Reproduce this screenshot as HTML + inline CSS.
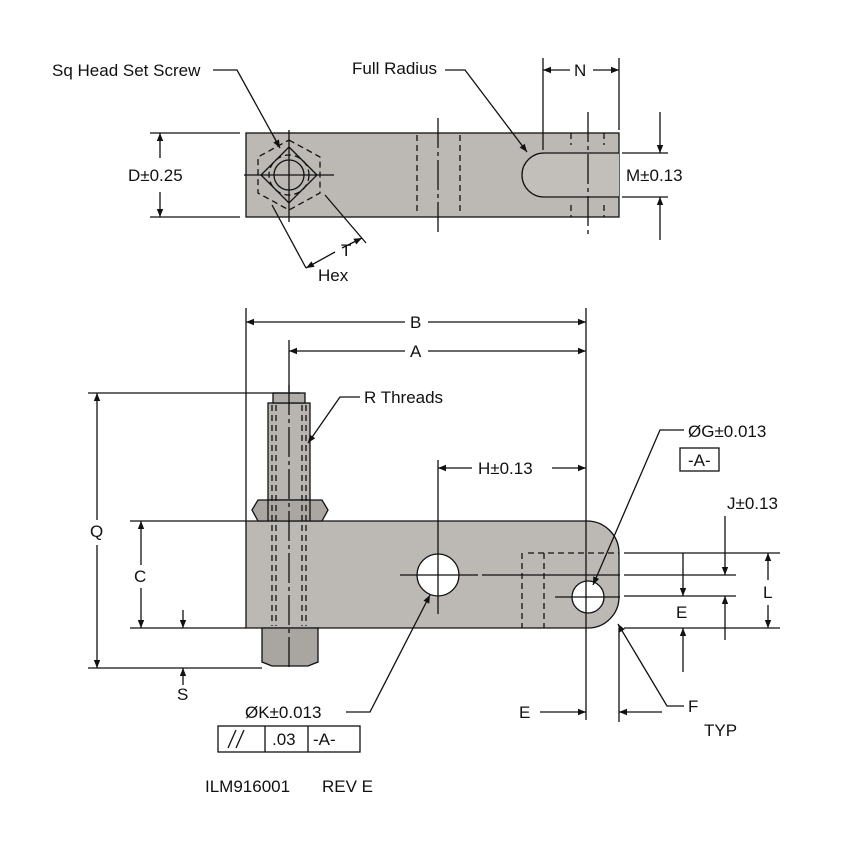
<!DOCTYPE html>
<html><head><meta charset="utf-8"><style>
body{margin:0;background:#fff}
svg{display:block}
text{font-family:"Liberation Sans",sans-serif;font-size:17px;fill:#111}
</style></head><body>
<svg width="844" height="858" viewBox="0 0 844 858" xmlns="http://www.w3.org/2000/svg">
<defs>
<marker id="a" viewBox="0 0 10 10" refX="10" refY="5" markerWidth="15" markerHeight="8" orient="auto-start-reverse" markerUnits="userSpaceOnUse"><path d="M0,1 L10,5 L0,9 z" fill="#111"/></marker>
</defs>
<g stroke="#111" stroke-width="1.3" fill="none">
<!-- TOP VIEW -->
<rect x="246" y="133" width="373" height="84" fill="#bcb9b4"/>
<path d="M619,153 H544 A22,22 0 0 0 544,197 H619" fill="#c2bfba"/>
<g stroke-dasharray="6,4">
<line x1="417" y1="135" x2="417" y2="215"/><line x1="460" y1="135" x2="460" y2="215"/>
<line x1="571" y1="133" x2="571" y2="145"/><line x1="604" y1="133" x2="604" y2="145"/>
<line x1="571" y1="205" x2="571" y2="217"/><line x1="604" y1="205" x2="604" y2="217"/>
<polygon points="289,140 320,157 320,193 289,210 258,193 258,157"/>
<circle cx="289" cy="175" r="20"/>
</g>
<line x1="438" y1="118" x2="438" y2="235" stroke-dasharray="30,4,4,4"/>
<line x1="588" y1="112" x2="588" y2="235" stroke-dasharray="30,4,4,4"/>
<polygon points="289,147 317,175 289,203 261,175"/>
<circle cx="289" cy="175" r="15"/>
<line x1="244" y1="175" x2="334" y2="175"/><line x1="289" y1="130" x2="289" y2="222"/>
<!-- D -->
<line x1="150" y1="133" x2="240" y2="133"/><line x1="150" y1="217" x2="240" y2="217"/>
<line x1="160" y1="158" x2="160" y2="133" marker-end="url(#a)"/>
<line x1="160" y1="192" x2="160" y2="217" marker-end="url(#a)"/>
<!-- M -->
<line x1="622" y1="153" x2="668" y2="153"/><line x1="622" y1="197" x2="668" y2="197"/>
<line x1="660" y1="112" x2="660" y2="153" marker-end="url(#a)"/>
<line x1="660" y1="240" x2="660" y2="197" marker-end="url(#a)"/>
<!-- N -->
<line x1="543" y1="58" x2="543" y2="150"/><line x1="619" y1="58" x2="619" y2="130"/>
<line x1="570" y1="70" x2="543" y2="70" marker-end="url(#a)"/>
<line x1="593" y1="70" x2="619" y2="70" marker-end="url(#a)"/>
<!-- leaders -->
<polyline points="213,70 237,70 280,148" marker-end="url(#a)"/>
<polyline points="445,70 465,70 527,152" marker-end="url(#a)"/>
<!-- T -->
<line x1="272" y1="205" x2="306" y2="268"/><line x1="325" y1="195" x2="366" y2="243"/>
<line x1="335" y1="252" x2="306" y2="268" marker-end="url(#a)"/>
<line x1="342" y1="248" x2="362" y2="238" marker-end="url(#a)"/>

<!-- BOTTOM VIEW -->
<path d="M246,521 H587 A32,32 0 0 1 619,553 V597 A31,31 0 0 1 588,628 H246 Z" fill="#bcb9b4"/>
<rect x="268" y="403" width="42" height="97" fill="#b8b5b0"/>
<rect x="273" y="393" width="32" height="10" fill="#b0ada8"/>
<path d="M252,510 L258,500 H322 L328,510 L322,521 H258 Z" fill="#aaa7a2"/>
<line x1="268" y1="500" x2="268" y2="521"/><line x1="310" y1="500" x2="310" y2="521"/>
<path d="M262,628 H318 V662 L308,666 H272 L262,662 Z" fill="#a9a6a1"/>
<g stroke-dasharray="6,4">
<line x1="272" y1="405" x2="272" y2="626"/><line x1="276" y1="405" x2="276" y2="626"/>
<line x1="302" y1="405" x2="302" y2="626"/><line x1="306" y1="405" x2="306" y2="626"/>
<line x1="522" y1="553" x2="522" y2="628"/><line x1="544" y1="553" x2="544" y2="628"/>
<line x1="528" y1="553" x2="619" y2="553"/>
</g>
<line x1="289" y1="385" x2="289" y2="668" stroke-dasharray="30,4,4,4"/>
<circle cx="438" cy="575" r="21" fill="#fff"/>
<circle cx="588" cy="597" r="16" fill="#fff"/>
<line x1="400" y1="575" x2="478" y2="575"/><line x1="482" y1="575" x2="620" y2="575"/>
<line x1="555" y1="597" x2="620" y2="597"/>
<line x1="438" y1="460" x2="438" y2="614"/>
<line x1="586" y1="308" x2="586" y2="720"/>
<line x1="619" y1="628" x2="619" y2="722"/>
<!-- B A -->
<line x1="246" y1="308" x2="246" y2="521"/>
<line x1="289" y1="340" x2="289" y2="393"/>
<line x1="405" y1="322" x2="246" y2="322" marker-end="url(#a)"/>
<line x1="428" y1="322" x2="586" y2="322" marker-end="url(#a)"/>
<line x1="405" y1="351" x2="289" y2="351" marker-end="url(#a)"/>
<line x1="428" y1="351" x2="586" y2="351" marker-end="url(#a)"/>
<!-- Q C S -->
<line x1="88" y1="393" x2="300" y2="393"/><line x1="88" y1="668" x2="262" y2="668"/>
<line x1="97" y1="520" x2="97" y2="393" marker-end="url(#a)"/>
<line x1="97" y1="545" x2="97" y2="668" marker-end="url(#a)"/>
<line x1="130" y1="521" x2="246" y2="521"/><line x1="130" y1="628" x2="246" y2="628"/>
<line x1="141" y1="565" x2="141" y2="521" marker-end="url(#a)"/>
<line x1="141" y1="588" x2="141" y2="628" marker-end="url(#a)"/>
<line x1="183" y1="610" x2="183" y2="628" marker-end="url(#a)"/>
<line x1="183" y1="685" x2="183" y2="668" marker-end="url(#a)"/>
<!-- H -->
<line x1="472" y1="468" x2="438" y2="468" marker-end="url(#a)"/>
<line x1="552" y1="468" x2="586" y2="468" marker-end="url(#a)"/>
<!-- right dims -->
<line x1="624" y1="553" x2="780" y2="553"/><line x1="624" y1="628" x2="780" y2="628"/>
<line x1="624" y1="575" x2="736" y2="575"/><line x1="624" y1="596" x2="736" y2="596"/>
<line x1="683" y1="553" x2="683" y2="596" marker-end="url(#a)"/>
<line x1="683" y1="672" x2="683" y2="628" marker-end="url(#a)"/>
<line x1="725" y1="516" x2="725" y2="575" marker-end="url(#a)"/>
<line x1="725" y1="640" x2="725" y2="596" marker-end="url(#a)"/>
<line x1="768" y1="580" x2="768" y2="553" marker-end="url(#a)"/>
<line x1="768" y1="605" x2="768" y2="628" marker-end="url(#a)"/>
<!-- bottom E -->
<line x1="540" y1="712" x2="586" y2="712" marker-end="url(#a)"/>
<line x1="662" y1="712" x2="619" y2="712" marker-end="url(#a)"/>
<!-- leaders -->
<polyline points="360,397 340,397 308,443" marker-end="url(#a)"/>
<polyline points="684,430 660,430 593,585" marker-end="url(#a)"/>
<polyline points="684,706 667,706 618,624" marker-end="url(#a)"/>
<polyline points="346,712 370,712 430,595" marker-end="url(#a)"/>
<rect x="680" y="448" width="39" height="23"/>
<rect x="218" y="726" width="142" height="26"/>
<line x1="265" y1="726" x2="265" y2="752"/><line x1="308" y1="726" x2="308" y2="752"/>
<line x1="228" y1="748" x2="236" y2="730"/><line x1="236" y1="748" x2="244" y2="730"/>
</g>
<g>
<text x="52" y="76">Sq Head Set Screw</text>
<text x="352" y="74">Full Radius</text>
<text x="574" y="76">N</text>
<text x="128" y="181">D±0.25</text>
<text x="626" y="181">M±0.13</text>
<text x="341" y="256">T</text>
<text x="318" y="281">Hex</text>
<text x="410" y="328">B</text>
<text x="410" y="357">A</text>
<text x="364" y="403">R Threads</text>
<text x="478" y="474">H±0.13</text>
<text x="688" y="437">ØG±0.013</text>
<text x="688" y="466">-A-</text>
<text x="727" y="509">J±0.13</text>
<text x="90" y="537">Q</text>
<text x="134" y="582">C</text>
<text x="676" y="618">E</text>
<text x="763" y="598">L</text>
<text x="177" y="700">S</text>
<text x="245" y="718">ØK±0.013</text>
<text x="519" y="718">E</text>
<text x="688" y="712">F</text>
<text x="704" y="736">TYP</text>
<text x="272" y="745">.03</text>
<text x="313" y="745">-A-</text>
<text x="205" y="792">ILM916001</text>
<text x="322" y="792">REV E</text>
</g>
</svg>
</body></html>
